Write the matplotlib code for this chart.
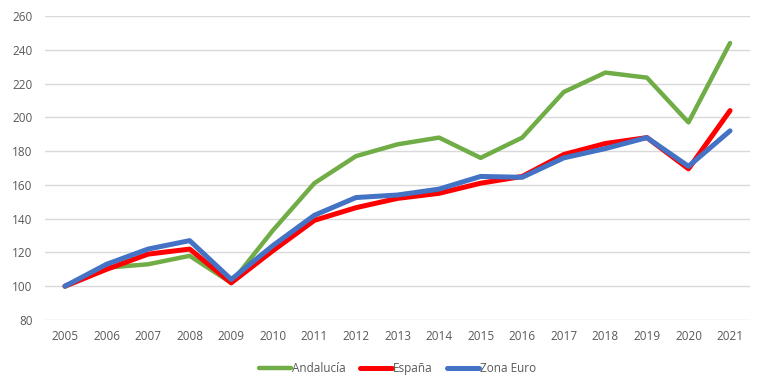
import numpy as np
import matplotlib.pyplot as plt

years = ['2005', '2006', '2007', '2008', '2009', '2010', '2011', '2012', '2013',
         '2014', '2015', '2016', '2017', '2018', '2019', '2020', '2021']
andalucia = [100, 111, 113, 118, 102, 133, 161, 177, 184, 188, 176, 188, 215, 226.5, 223.5, 197, 244]
espana = [100, 110, 119, 122, 102, 121, 139, 146.5, 152, 155, 161, 165, 178, 184.5, 188, 169.5, 204]
zona_euro = [100, 113, 122, 127, 104, 124, 142, 152.5, 154, 157.5, 165, 164.5, 176, 181.5, 188, 171, 192]

plt.rcParams['font.family'] = ['Open Sans', 'DejaVu Sans']

fig = plt.figure(figsize=(7.68, 3.9), dpi=100)
ax = fig.add_axes([45/768, 1 - 320/390, 705/768, 304/390])

x = np.arange(len(years))
ax.plot(x, andalucia, color='#70AD47', lw=3.2, label='Andalucía', solid_capstyle='round')
ax.plot(x, espana, color='#FF0000', lw=3.6, label='España', solid_capstyle='round')
ax.plot(x, zona_euro, color='#4472C4', lw=3.6, label='Zona Euro', solid_capstyle='round')

ax.set_xlim(-0.48, len(years) - 0.52)
ax.set_ylim(80, 260)
ax.set_yticks(range(80, 261, 20))
ax.set_xticks(x)
ax.set_xticklabels(years)
ax.grid(axis='y', color='#D9D9D9', lw=1)
ax.set_axisbelow(True)
for s in ['top', 'right', 'left', 'bottom']:
    ax.spines[s].set_visible(False)
ax.tick_params(length=0, labelsize=8.5, colors='#595959', pad=7)
ax.tick_params(axis='y', pad=9)

ax.legend(loc='upper center', bbox_to_anchor=(0.5, -0.103), ncol=3, frameon=False,
          fontsize=8.5, labelcolor='#595959', handlelength=2.7, handletextpad=0.1,
          columnspacing=1.2)

fig.savefig('out.png', dpi=100)
